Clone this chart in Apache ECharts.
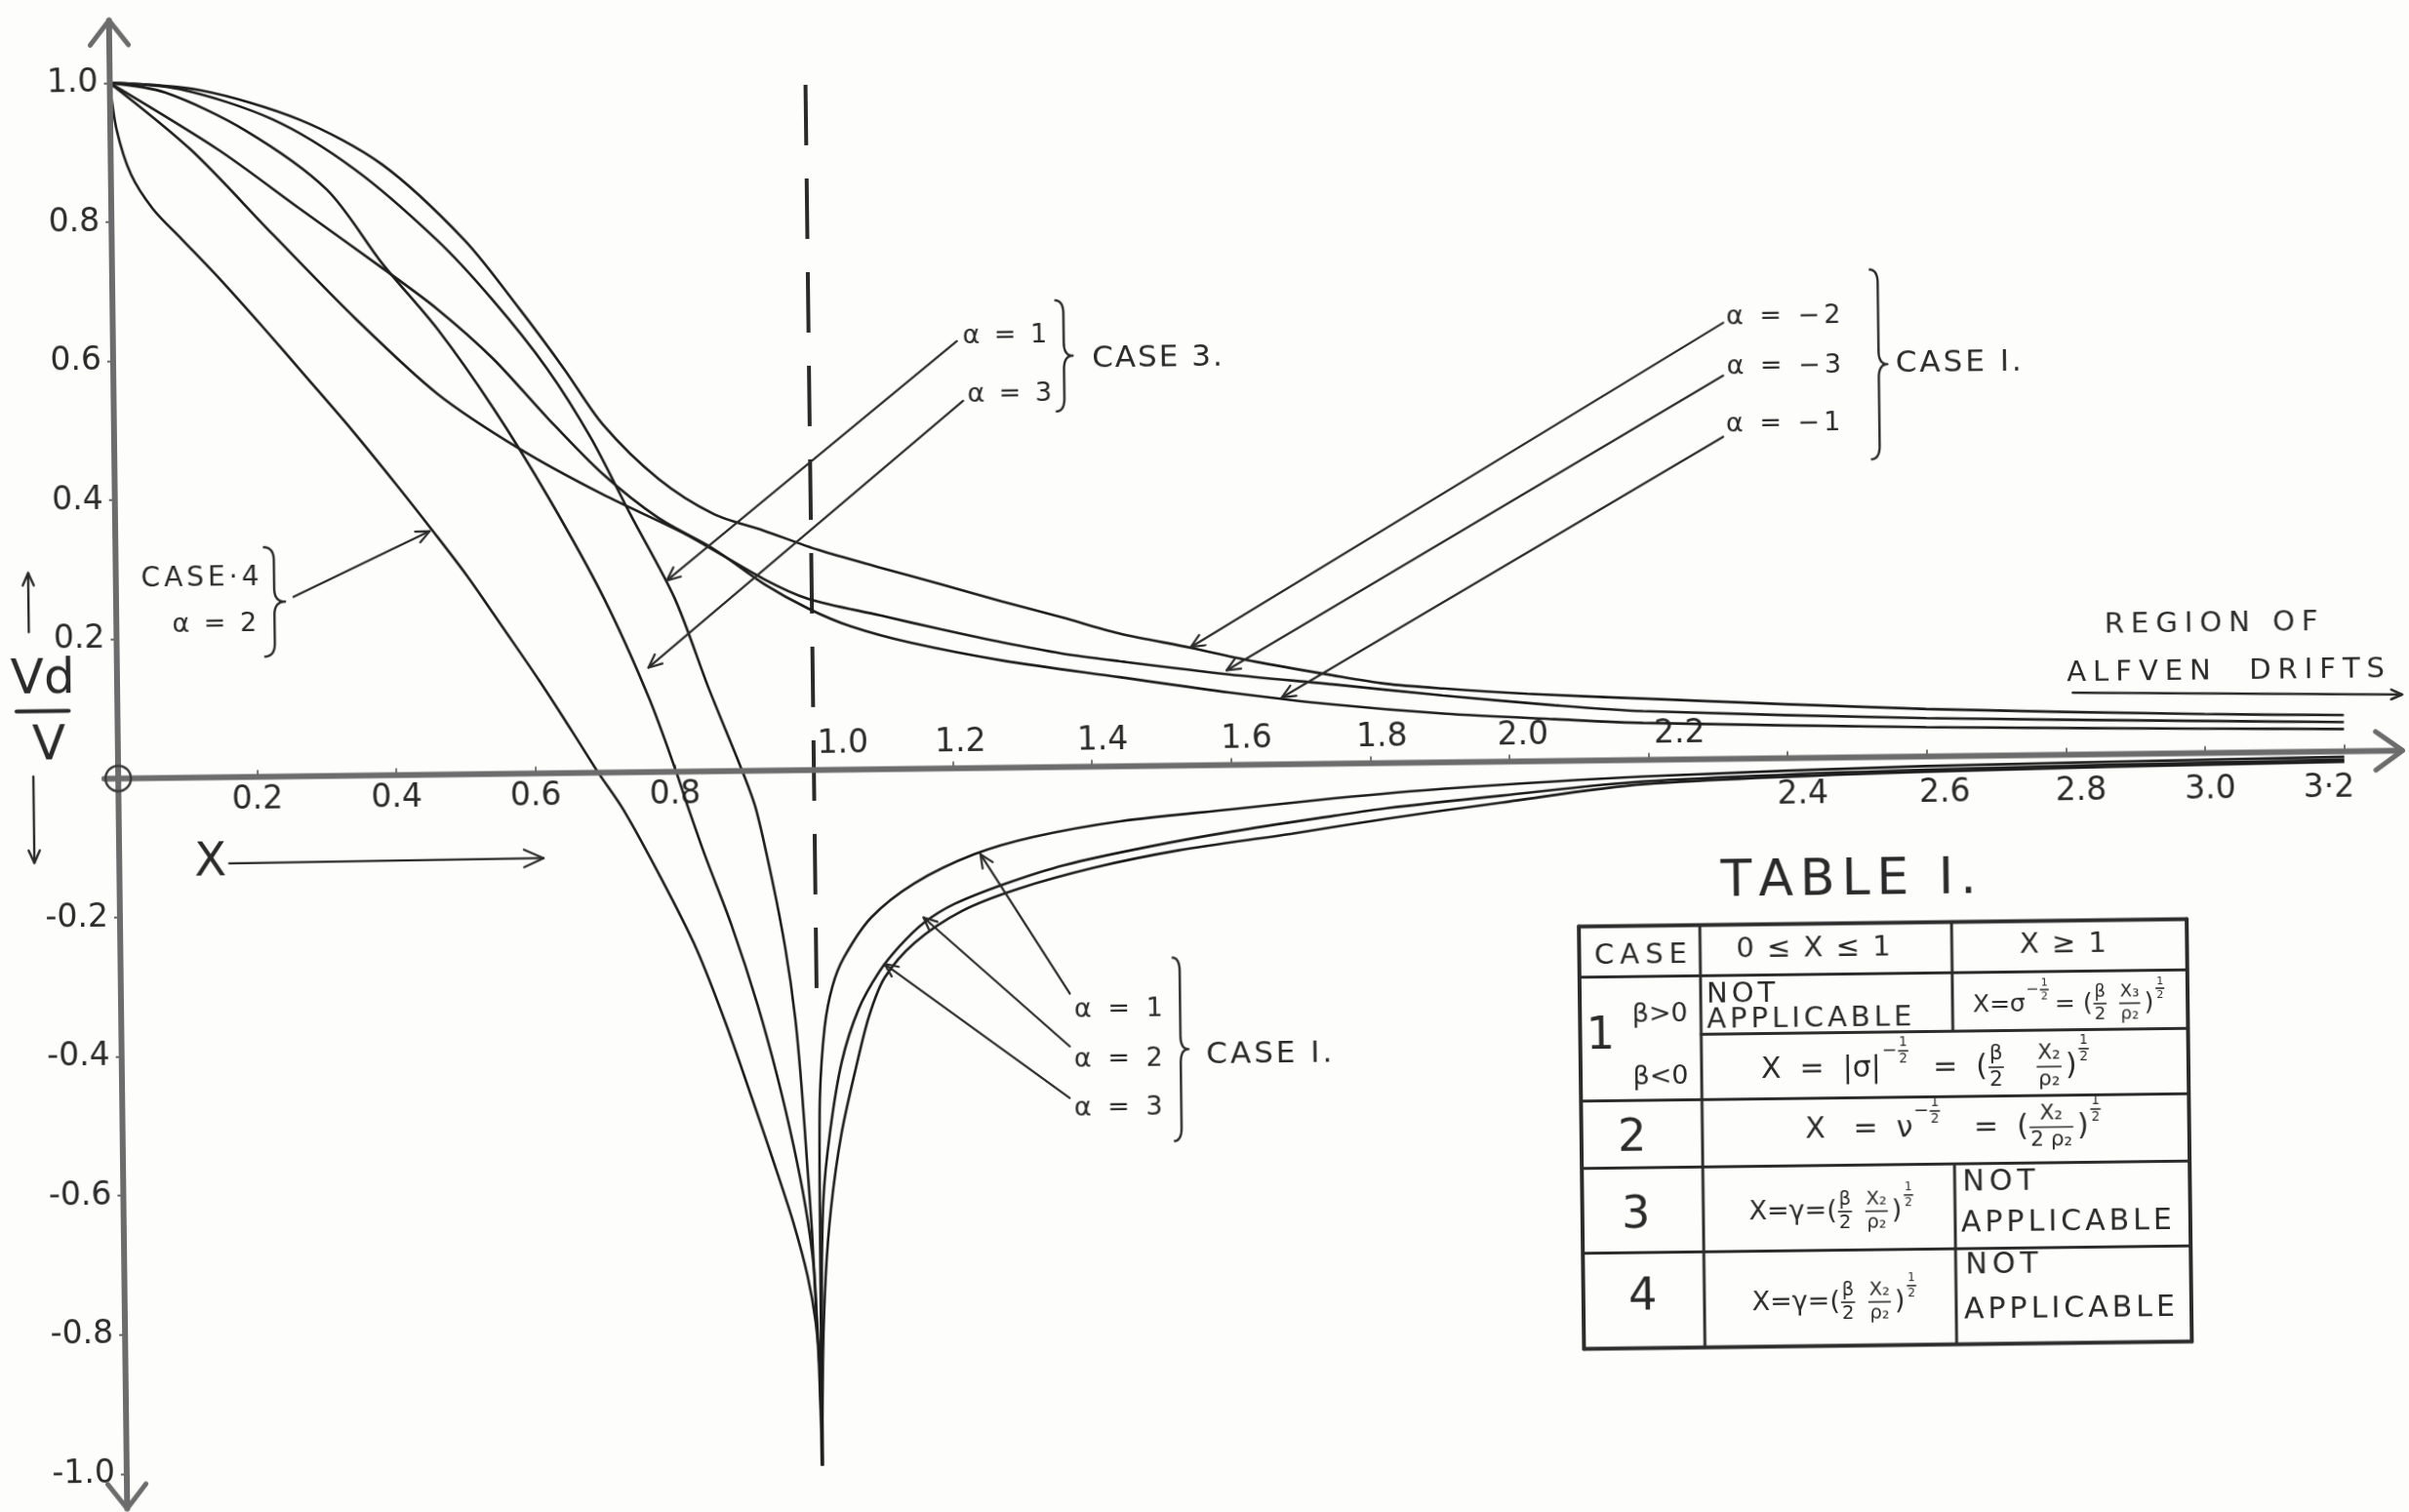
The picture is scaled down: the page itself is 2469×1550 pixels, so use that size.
<!DOCTYPE html>
<html>
<head>
<meta charset="utf-8">
<title>Drift velocity ratio against X</title>
<script src="https://cdn.jsdelivr.net/npm/echarts@6/dist/echarts.min.js"></script>
<style>
  html, body { margin: 0; padding: 0; background: #fdfdfc; overflow: hidden; }
  #chart { width: 2469px; height: 1550px; transform: rotate(-0.7deg); transform-origin: 50% 50%; }
</style>
</head>
<body>
<div id="chart"></div>
<script>
// ---------- curve values: [X, Vd/V] ----------
const case4Alpha2 = [[0,1.0],[0.009,0.933],[0.029,0.868],[0.060,0.818],[0.100,0.775],[0.154,0.717],[0.217,0.645],[0.278,0.573],[0.341,0.498],[0.403,0.420],[0.459,0.347],[0.505,0.285],[0.559,0.205],[0.607,0.133],[0.653,0.060],[0.690,0.0],[0.725,-0.053],[0.779,-0.154],[0.828,-0.255],[0.869,-0.363],[0.905,-0.470],[0.936,-0.565],[0.963,-0.652],[0.982,-0.727],[0.993,-0.794],[0.998,-0.860],[1.0,-1.0]];
const case3Alpha3 = [[0,1.0],[0.08,0.985],[0.193,0.930],[0.310,0.843],[0.389,0.735],[0.467,0.640],[0.546,0.525],[0.624,0.395],[0.701,0.251],[0.764,0.107],[0.802,0.0],[0.817,-0.047],[0.842,-0.121],[0.879,-0.222],[0.915,-0.337],[0.943,-0.444],[0.964,-0.539],[0.980,-0.626],[0.991,-0.713],[0.995,-0.794],[0.998,-0.860],[1.0,-1.0]];
const case3Alpha1 = [[0,1.0],[0.10,0.99],[0.233,0.945],[0.350,0.872],[0.467,0.769],[0.546,0.682],[0.624,0.581],[0.686,0.480],[0.740,0.372],[0.803,0.249],[0.850,0.120],[0.897,0.0],[0.916,-0.055],[0.938,-0.157],[0.956,-0.257],[0.969,-0.358],[0.977,-0.459],[0.983,-0.558],[0.989,-0.659],[0.993,-0.760],[0.997,-0.860],[1.0,-1.0]];
const case1AlphaM2 = [[0,1.0],[0.13,0.988],[0.272,0.944],[0.390,0.878],[0.507,0.768],[0.585,0.668],[0.648,0.581],[0.703,0.500],[0.782,0.421],[0.860,0.370],[0.932,0.345],[1.011,0.316],[1.098,0.290],[1.185,0.265],[1.273,0.239],[1.359,0.215],[1.441,0.191],[1.544,0.169],[1.636,0.148],[1.747,0.127],[1.823,0.114],[1.906,0.106],[2.027,0.097],[2.193,0.088],[2.6,0.068],[3.0,0.056],[3.2,0.052]];
const case1AlphaM3 = [[0,1.0],[0.115,0.903],[0.232,0.779],[0.349,0.657],[0.466,0.547],[0.584,0.466],[0.701,0.400],[0.820,0.341],[0.932,0.275],[0.995,0.246],[1.098,0.221],[1.185,0.200],[1.273,0.180],[1.359,0.163],[1.441,0.151],[1.599,0.130],[1.747,0.114],[1.906,0.096],[2.066,0.080],[2.193,0.070],[2.6,0.055],[3.0,0.046],[3.2,0.042]];
const case1AlphaM1 = [[0,1.0],[0.155,0.902],[0.272,0.815],[0.390,0.728],[0.467,0.669],[0.546,0.597],[0.624,0.510],[0.702,0.429],[0.781,0.365],[0.859,0.320],[0.932,0.268],[0.995,0.232],[1.055,0.206],[1.142,0.181],[1.273,0.154],[1.441,0.128],[1.599,0.104],[1.747,0.085],[1.906,0.070],[2.066,0.060],[2.193,0.053],[2.6,0.042],[3.0,0.035],[3.2,0.032]];
const case1Alpha1 = [[1.0,-1.0],[1.001,-0.62],[1.003,-0.47],[1.011,-0.37],[1.023,-0.311],[1.040,-0.270],[1.080,-0.213],[1.142,-0.165],[1.229,-0.124],[1.315,-0.100],[1.441,-0.079],[1.599,-0.064],[1.747,-0.050],[1.906,-0.038],[2.193,-0.024],[2.6,-0.014],[3.2,-0.008]];
const case1Alpha2 = [[1.0,-1.0],[1.002,-0.76],[1.006,-0.62],[1.017,-0.52],[1.035,-0.42],[1.060,-0.345],[1.090,-0.292],[1.120,-0.255],[1.155,-0.222],[1.200,-0.195],[1.273,-0.167],[1.359,-0.141],[1.481,-0.116],[1.599,-0.096],[1.747,-0.075],[1.823,-0.065],[1.988,-0.049],[2.193,-0.031],[2.6,-0.019],[3.2,-0.012]];
const case1Alpha3 = [[1.0,-1.0],[1.003,-0.84],[1.008,-0.73],[1.017,-0.63],[1.033,-0.525],[1.055,-0.43],[1.075,-0.355],[1.098,-0.300],[1.142,-0.250],[1.211,-0.205],[1.290,-0.175],[1.403,-0.145],[1.523,-0.122],[1.686,-0.100],[1.823,-0.080],[1.988,-0.059],[2.193,-0.035],[2.6,-0.022],[3.2,-0.015]];

// boundary X = 1 (dashed), from the top of the curves down to where they close in
const singularLine = [[1.0, 0.985], [1.0, -0.33]];

// ---------- axes ----------
const xRange = [0, 3.2];
const yRange = [-1, 1];
const tickStep = 0.2;
const xLabelsAbove = ['1.0', '1.2', '1.4', '1.6', '1.8', '2.0', '2.2'];
const xLabelsBelow = ['0.2', '0.4', '0.6', '0.8', '2.4', '2.6', '2.8', '3.0', '3.2'];
const xLabelText = { '3.2': '3·2' };
const axisExtentX = [-0.02, 3.284];
const axisExtentY = [-1.05, 1.09];

// ---------- styling ----------
const FONT = '"DejaVu Sans", Lato, sans-serif';
const INK = '#2a2a2a';
const AXIS_GREY = '#6c6c6c';
const PX_PER_UNIT = 713;
const GRID_LEFT = 121, GRID_TOP = 71.4;
const GRID_W = PX_PER_UNIT * (xRange[1] - xRange[0]);
const HALF_H = PX_PER_UNIT * yRange[1];
const TICK_FONT = 33;

// hand-lettered placement of some tick labels: [right, down] in px
const xLabelNudge = {
  '1.0': [30, 0], '1.2': [8, 0], '1.4': [11, 0], '1.6': [16, 0], '1.8': [12, 0], '2.0': [14, 0], '2.2': [32, 0],
  '2.4': [15, 14], '2.6': [18, 14], '2.8': [15, 14], '3.0': [5, 14], '3.2': [-16, 14]
};
function richFor(keys) {
  const rich = {};
  keys.forEach(k => {
    const [dx, dy] = xLabelNudge[k] || [0, 0];
    rich['n' + k.replace('.', '_')] = {
      fontSize: TICK_FONT, fontFamily: FONT, color: INK,
      padding: [dy, dx < 0 ? -2 * dx : 0, 0, dx > 0 ? 2 * dx : 0]
    };
  });
  return rich;
}
function xFormatter(keys) {
  const set = new Set(keys);
  return v => {
    const k = v.toFixed(1);
    if (!set.has(k)) return '';
    return '{n' + k.replace('.', '_') + '|' + (xLabelText[k] || k) + '}';
  };
}

const chart = echarts.init(document.getElementById('chart'), null, { renderer: 'canvas' });

function curve(name, data) {
  return {
    name, type: 'line', data, symbol: 'none', showSymbol: false,
    xAxisIndex: 0, yAxisIndex: 0,
    smooth: 0.3, clip: false, silent: true, z: 3,
    lineStyle: { color: '#1d1d1d', width: 2.6 }
  };
}
const valueAxis = (extra) => Object.assign({ type: 'value', min: xRange[0], max: xRange[1], interval: tickStep, splitLine: { show: false } }, extra);

const option = {
  backgroundColor: '#fdfdfc',
  animation: false,
  grid: [
    // plotting area
    { left: GRID_LEFT, top: GRID_TOP, width: GRID_W, height: 2 * HALF_H, outerBoundsMode: 'none' },
    // upper half: its bottom edge is the X axis, labels hang below it
    { left: GRID_LEFT, top: GRID_TOP, width: GRID_W, height: HALF_H, outerBoundsMode: 'none' },
    // lower half: its top edge is the X axis, labels stand above it
    { left: GRID_LEFT, top: GRID_TOP + HALF_H, width: GRID_W, height: HALF_H, outerBoundsMode: 'none' }
  ],
  xAxis: [
    valueAxis({ gridIndex: 0, show: false }),
    valueAxis({
      gridIndex: 1, position: 'bottom',
      axisLine: { show: false }, axisTick: { show: false },
      axisLabel: { margin: 8, fontSize: TICK_FONT, fontFamily: FONT, color: INK, formatter: xFormatter(xLabelsBelow), rich: richFor(xLabelsBelow) }
    }),
    valueAxis({
      gridIndex: 2, position: 'top',
      axisLine: { show: false },
      axisTick: { show: true, length: 7, lineStyle: { color: '#777', width: 2 } },
      axisLabel: { margin: 9, fontSize: TICK_FONT, fontFamily: FONT, color: INK, formatter: xFormatter(xLabelsAbove), rich: richFor(xLabelsAbove) }
    })
  ],
  yAxis: [
    {
      gridIndex: 0, type: 'value', min: yRange[0], max: yRange[1], interval: tickStep,
      axisLine: { show: false },
      axisTick: { show: true, length: 6, lineStyle: { color: '#666', width: 2 } },
      splitLine: { show: false },
      axisLabel: {
        margin: 12, fontSize: TICK_FONT, fontFamily: FONT, color: INK,
        formatter: v => (Math.abs(v) < 1e-9 ? '' : v.toFixed(1))
      }
    },
    { gridIndex: 1, type: 'value', min: 0, max: yRange[1], show: false },
    { gridIndex: 2, type: 'value', min: yRange[0], max: 0, show: false }
  ],
  series: [
    curve('Case 4, α = 2', case4Alpha2),
    curve('Case 3, α = 3', case3Alpha3),
    curve('Case 3, α = 1', case3Alpha1),
    curve('Case 1, α = −2', case1AlphaM2),
    curve('Case 1, α = −3', case1AlphaM3),
    curve('Case 1, α = −1', case1AlphaM1),
    curve('Case 1, α = 1', case1Alpha1),
    curve('Case 1, α = 2', case1Alpha2),
    curve('Case 1, α = 3', case1Alpha3),
    {
      name: 'X = 1', type: 'line', data: singularLine, symbol: 'none', clip: false, silent: true, z: 2,
      xAxisIndex: 0, yAxisIndex: 0,
      lineStyle: { color: '#2a2a2a', width: 4, type: [62, 34] }
    }
  ]
};
chart.setOption(option);

// ---------- annotations ----------
const els = [];
const measureCtx = document.createElement('canvas').getContext('2d');
function textWidth(t, size) { measureCtx.font = size + 'px ' + FONT; return measureCtx.measureText(t).width; }
function px(x, y) { return chart.convertToPixel({ xAxisIndex: 0, yAxisIndex: 0 }, [x, y]); }

function textAt(str, x, y, size, align, spacing, color) {
  const fill = color || INK;
  if (!spacing) {
    els.push({ type: 'text', silent: true, z: 10, style: { text: str, x, y, fill, font: size + 'px ' + FONT, align: align || 'center', verticalAlign: 'middle', textAlign: align || 'center', textVerticalAlign: 'middle' } });
    return;
  }
  const chars = Array.from(str);
  const total = chars.reduce((s, c) => s + textWidth(c, size), 0) + spacing * (chars.length - 1);
  let cx = align === 'left' ? x : x - total / 2;
  chars.forEach(c => {
    els.push({ type: 'text', silent: true, z: 10, style: { text: c, x: cx, y, fill, font: size + 'px ' + FONT, align: 'left', verticalAlign: 'middle', textAlign: 'left', textVerticalAlign: 'middle' } });
    cx += textWidth(c, size) + spacing;
  });
}
function note(str, xd, yd, size, align, spacing) {
  const p = px(xd, yd);
  textAt(str, p[0], p[1], size, align, spacing);
}
function segment(a, b, width, color) {
  els.push({ type: 'line', silent: true, z: 9, shape: { x1: a[0], y1: a[1], x2: b[0], y2: b[1] }, style: { stroke: color || INK, lineWidth: width || 2.2, lineCap: 'round' } });
}
function chevron(tip, ang, len, spread, width, color) {
  const p1 = [tip[0] - len * Math.cos(ang - spread), tip[1] - len * Math.sin(ang - spread)];
  const p2 = [tip[0] - len * Math.cos(ang + spread), tip[1] - len * Math.sin(ang + spread)];
  els.push({ type: 'polyline', silent: true, z: 9, shape: { points: [p1, tip, p2] }, style: { stroke: color || INK, lineWidth: width || 2.2, fill: null, lineJoin: 'round', lineCap: 'round' } });
}
function arrowPx(a, b, head, width, color) {
  segment(a, b, width, color);
  chevron(b, Math.atan2(b[1] - a[1], b[0] - a[0]), head || 15, 0.42, width, color);
}
function arrow(from, to, head, width) { arrowPx(px(from[0], from[1]), px(to[0], to[1]), head, width); }
function brace(xd, yTop, yBot, w) {
  const t = px(xd, yTop), b = px(xd, yBot);
  const x0 = t[0], y1 = t[1], y2 = b[1], ym = (y1 + y2) / 2;
  const c = Math.min(14, (y2 - y1) * 0.12);
  const xm = x0 + w * 0.5, xr = x0 + w;
  const pts = [];
  const q = (p0, p1, p2) => { for (let i = 0; i <= 10; i++) { const s = i / 10; pts.push([(1 - s) * (1 - s) * p0[0] + 2 * (1 - s) * s * p1[0] + s * s * p2[0], (1 - s) * (1 - s) * p0[1] + 2 * (1 - s) * s * p1[1] + s * s * p2[1]]); } };
  q([x0, y1], [xm, y1], [xm, y1 + c]);
  q([xm, ym - c], [xm, ym], [xr, ym]);
  q([xr, ym], [xm, ym], [xm, ym + c]);
  q([xm, y2 - c], [xm, y2], [x0, y2]);
  els.push({ type: 'polyline', silent: true, z: 9, shape: { points: pts }, style: { stroke: INK, lineWidth: 2.4, fill: null, lineJoin: 'round' } });
}

// axes with open arrowheads
(function drawAxes() {
  const xa = px(axisExtentX[0], 0), xb = px(axisExtentX[1], 0);
  const ya = px(0, axisExtentY[0]), yb = px(0, axisExtentY[1]);
  segment(xa, [xb[0] - 4, xb[1]], 6, AXIS_GREY);
  segment(ya, yb, 6, AXIS_GREY);
  chevron(xb, 0, 34, 0.62, 5, AXIS_GREY);
  chevron(yb, -Math.PI / 2, 32, 0.66, 5, AXIS_GREY);
  chevron(ya, Math.PI / 2, 32, 0.66, 5, AXIS_GREY);
  const o = px(0, 0);
  els.push({ type: 'circle', silent: true, z: 9, shape: { cx: o[0], cy: o[1], r: 13 }, style: { stroke: '#3a3a3a', lineWidth: 2.5, fill: null } });
})();

// vertical axis title Vd / V with direction arrows
note('Vd', -0.107, 0.1415, 50);
segment(px(-0.145, 0.098), px(-0.070, 0.098), 4);
note('V', -0.099, 0.0475, 50);
arrow([-0.126, 0.212], [-0.126, 0.297], 14, 2.4);
arrow([-0.122, 0.004], [-0.122, -0.120], 14, 2.4);

// horizontal axis title X with arrow
note('X', 0.131, -0.124, 48);
arrow([0.158, -0.124], [0.610, -0.122], 22, 2.2);

// Case 3 labels
note('α = 1', 1.282, 0.620, 27, 'center', 3);
note('α = 3', 1.288, 0.537, 27, 'center', 3);
brace(1.354, 0.671, 0.511, 18);
note('CASE 3.', 1.407, 0.586, 31, 'left', 2);
arrow([1.213, 0.614], [0.792, 0.275]);
arrow([1.221, 0.528], [0.764, 0.150]);

// Case 1, negative alpha
note('α = −2', 2.319, 0.634, 27, 'left', 4);
note('α = −3', 2.319, 0.563, 27, 'left', 4);
note('α = −1', 2.317, 0.480, 27, 'left', 4);
brace(2.525, 0.701, 0.428, 18);
note('CASE I.', 2.562, 0.565, 31, 'left', 3);
arrow([2.315, 0.627], [1.544, 0.170]);
arrow([2.314, 0.551], [1.595, 0.136]);
arrow([2.313, 0.463], [1.674, 0.096]);

// Case 1, positive alpha
note('α = 1', 1.370, -0.350, 27, 'left', 4);
note('α = 2', 1.369, -0.422, 27, 'left', 4);
note('α = 3', 1.368, -0.492, 27, 'left', 4);
brace(1.511, -0.276, -0.540, 16);
note('CASE I.', 1.559, -0.418, 31, 'left', 3);
arrow([1.364, -0.326], [1.238, -0.124]);
arrow([1.363, -0.402], [1.155, -0.214]);
arrow([1.362, -0.476], [1.098, -0.280]);

// Case 4 label
note('CASE·4', 0.121, 0.285, 28, 'center', 4);
note('α = 2', 0.141, 0.220, 27, 'center', 3);
brace(0.212, 0.330, 0.1725, 22);
arrow([0.255, 0.258], [0.452, 0.350]);

// region of Alfven drifts
note('REGION OF', 3.011, 0.185, 29, 'center', 7);
note('ALFVEN  DRIFTS', 3.031, 0.116, 29, 'center', 7);
arrow([2.811, 0.089], [3.284, 0.0805], 12, 2.6);

// ---------- Table I ----------
textAt('TABLE I.', 1893, 911, 52, 'center', 7);
const col = [1616, 1740, 1998, 2239];
const row = [954.5, 1006.5, 1066.5, 1133.5, 1202.5, 1289.5, 1387.5];
const rule = (x1, y1, x2, y2, w) => segment([x1, y1], [x2, y2], w || 3, '#2c2c2c');
rule(col[0], row[0], col[3], row[0], 4);
rule(col[0], row[1], col[3], row[1]);
rule(col[1], row[2], col[3], row[2]);
rule(col[0], row[3], col[3], row[3]);
rule(col[0], row[4], col[3], row[4]);
rule(col[0], row[5], col[3], row[5]);
rule(col[0], row[6], col[3], row[6], 4);
rule(col[0], row[0], col[0], row[6], 4);
rule(col[1], row[0], col[1], row[6]);
rule(col[3], row[0], col[3], row[6], 4);
rule(col[2], row[0], col[2], row[2]);
rule(col[2], row[4], col[2], row[6]);

textAt('CASE', 1679, 985, 29, 'center', 6);
textAt('0 ≤ X ≤ 1', 1856, 980, 29, 'center', 2);
textAt('X ≥ 1', 2112, 979, 29, 'center', 2);
textAt('1', 1637, 1068, 46);
textAt('β>0', 1698, 1046, 27);
textAt('β<0', 1698, 1110, 27);
textAt('NOT', 1746, 1026, 29, 'left', 4);
textAt('APPLICABLE', 1746, 1052, 29, 'left', 4);
textAt('2', 1668, 1173, 46);
textAt('3', 1671, 1252, 46);
textAt('4', 1677, 1336, 46);
textAt('NOT', 2006, 1222, 30, 'left', 5);
textAt('APPLICABLE', 2004, 1264, 30, 'left', 4);
textAt('NOT', 2008, 1307, 30, 'left', 5);
textAt('APPLICABLE', 2006, 1353, 30, 'left', 4);

// small formula typesetter: strings, {f:[num, den]} fractions, {s:[...]} superscripts
function textAtRaw(t, x, y, size) {
  els.push({ type: 'text', silent: true, z: 10, style: { text: t, x, y, fill: INK, font: size + 'px ' + FONT, align: 'center', verticalAlign: 'middle', textAlign: 'center', textVerticalAlign: 'middle' } });
}
function typeset(tokens, size, x, y, draw) {
  let cx = x;
  tokens.forEach(tok => {
    if (typeof tok === 'string') {
      if (draw) els.push({ type: 'text', silent: true, z: 10, style: { text: tok, x: cx, y, fill: INK, font: size + 'px ' + FONT, align: 'left', verticalAlign: 'middle', textAlign: 'left', textVerticalAlign: 'middle' } });
      cx += textWidth(tok, size);
    } else if (tok.f) {
      const ns = size * 0.72;
      const w = Math.max(textWidth(tok.f[0], ns), textWidth(tok.f[1], ns)) + 4;
      if (draw) {
        textAtRaw(tok.f[0], cx + w / 2, y - ns * 0.64, ns);
        textAtRaw(tok.f[1], cx + w / 2, y + ns * 0.64, ns);
        els.push({ type: 'line', silent: true, z: 10, shape: { x1: cx + 1, y1: y, x2: cx + w - 1, y2: y }, style: { stroke: INK, lineWidth: 1.6 } });
      }
      cx += w + 3;
    } else if (tok.s) {
      cx += typeset(tok.s, size * 0.62, cx + 1, y - size * 0.6, draw) + 3;
    }
  });
  return cx - x;
}
function formula(tokens, size, cx, cy) {
  const w = typeset(tokens, size, 0, 0, false);
  typeset(tokens, size, cx - w / 2, cy, true);
}
const half = { f: ['1', '2'] };
formula(['X=σ', { s: ['−', half] }, '= (', { f: ['β', '2'] }, ' ', { f: ['X₃', 'ρ₂'] }, ')', { s: [half] }], 25, 2120, 1040);
formula(['X  =  |σ|', { s: ['−', half] }, '  =  (', { f: ['β', '2'] }, '   ', { f: ['X₂', 'ρ₂'] }, ')', { s: [half] }], 30, 1972, 1104);
formula(['X   =  ν', { s: ['−', half] }, '   =  (', { f: ['X₂', '2 ρ₂'] }, ')', { s: [half] }], 30, 2000, 1166);
formula(['X=γ=(', { f: ['β', '2'] }, ' ', { f: ['X₂', 'ρ₂'] }, ')', { s: [half] }], 27, 1874, 1250);
formula(['X=γ=(', { f: ['β', '2'] }, ' ', { f: ['X₂', 'ρ₂'] }, ')', { s: [half] }], 27, 1876, 1343);

chart.setOption({ graphic: { elements: els } });
</script>
</body>
</html>
